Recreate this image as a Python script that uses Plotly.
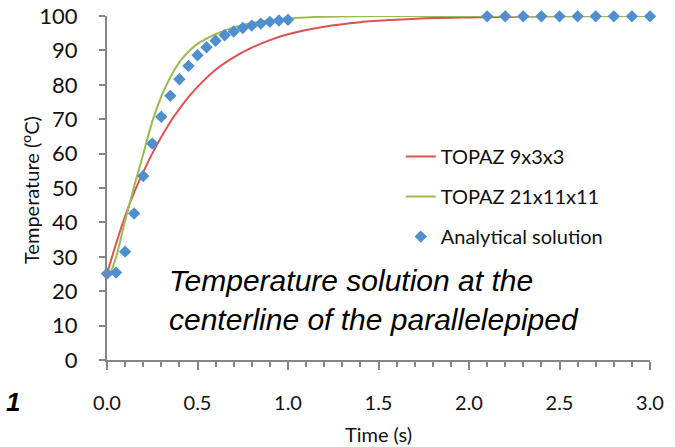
import plotly.graph_objects as go

# Analytical solution
t_an = [0.0, 0.05, 0.1, 0.15, 0.2, 0.25, 0.3, 0.35, 0.4, 0.45, 0.5, 0.55, 0.6, 0.65, 0.7,
        0.75, 0.8, 0.85, 0.9, 0.95, 1.0,
        2.1, 2.2, 2.3, 2.4, 2.5, 2.6, 2.7, 2.8, 2.9, 3.0]
T_an = [25.1, 25.4, 31.5, 42.6, 53.5, 62.9, 70.7, 76.8, 81.6, 85.5, 88.6, 90.9, 92.8, 94.4, 95.5,
        96.5, 97.2, 97.8, 98.3, 98.7, 98.9,
        99.9, 99.9, 99.9, 99.9, 99.9, 99.9, 99.9, 99.9, 99.9, 99.9]

# TOPAZ 9x3x3
t_red = [0.0, 0.05, 0.1, 0.15, 0.2, 0.25, 0.3, 0.35, 0.4, 0.45, 0.5, 0.6, 0.7, 0.8, 0.9, 1.0,
         1.2, 1.4, 1.6, 1.8, 2.0, 2.5, 3.0]
T_red = [25.0, 33.8, 41.8, 48.7, 54.6, 60.0, 64.8, 69.2, 73.0, 76.4, 79.4, 84.4, 88.0, 90.8,
         93.0, 94.7, 96.9, 98.2, 98.9, 99.4, 99.6, 99.9, 100.0]

# TOPAZ 21x11x11
t_grn = [0.017, 0.05, 0.1, 0.15, 0.2, 0.25, 0.3, 0.35, 0.4, 0.45, 0.5, 0.6, 0.7, 0.8, 0.9,
         1.0, 1.2, 1.5, 2.0, 3.0]
T_grn = [25.0, 29.8, 40.5, 50.5, 59.8, 69.3, 76.6, 82.2, 86.6, 89.6, 91.9, 94.7, 96.7, 98.0,
         98.8, 99.3, 99.8, 100.0, 100.0, 100.0]

FONT = "Lato"

fig = go.Figure()
fig.add_trace(go.Scatter(x=t_red, y=T_red, mode="lines", name="TOPAZ 9x3x3",
                         line=dict(color="#d9544f", width=2, shape="spline", smoothing=0.8),
                         legendgroup="a", cliponaxis=False))
fig.add_trace(go.Scatter(x=t_grn, y=T_grn, mode="lines", name="TOPAZ 21x11x11",
                         line=dict(color="#9bbb59", width=2, shape="spline", smoothing=0.8),
                         legendgroup="b", cliponaxis=False))
fig.add_trace(go.Scatter(x=t_an, y=T_an, mode="markers", name="Analytical solution",
                         marker=dict(symbol="diamond", color="#4f8fce", size=9.5),
                         legendgroup="c", cliponaxis=False))

axis_col = "#868686"
fig.update_layout(
    width=675, height=447,
    margin=dict(l=107, r=25, t=16, b=87, autoexpand=False),
    paper_bgcolor="white", plot_bgcolor="white",
    font=dict(family=FONT, size=20, color="#111111"),
    showlegend=True,
    legend=dict(x=0.541, y=0.648, xanchor="left", yanchor="top",
                bgcolor="rgba(0,0,0,0)", tracegroupgap=11,
                font=dict(family=FONT, size=20, color="#111111"),
                itemwidth=30),
    xaxis=dict(range=[0, 3], tick0=0, dtick=0.5, tickformat=".1f", automargin=False,
               showgrid=False, zeroline=False, showline=True, linecolor=axis_col, linewidth=2,
               ticks="outside", ticklen=8, tickcolor=axis_col, tickwidth=2,
               ticklabelstandoff=16,
               minor=dict(dtick=0.1, ticks="outside", ticklen=5, tickcolor=axis_col, tickwidth=1.5),
               title=dict(text="Time (s)", font=dict(family=FONT, size=20), standoff=15)),
    yaxis=dict(range=[0, 100], dtick=10, automargin=False,
               showgrid=False, zeroline=False, showline=True, linecolor=axis_col, linewidth=2,
               ticks="outside", ticklen=6, tickcolor=axis_col, tickwidth=2,
               ticklabelstandoff=17, tickfont=dict(family=FONT, size=22)),
    annotations=[
        dict(text="Temperature (<sup>o</sup>C)", textangle=-90,
             xref="paper", yref="paper", x=(30 - 107) / 543, y=1 - (190 - 16) / 344,
             xanchor="center", yanchor="middle", showarrow=False,
             font=dict(family=FONT, size=20, color="#111111")),
        dict(text="<i>Temperature solution at the<br>centerline of the parallelepiped</i>",
             xref="paper", yref="paper", x=0.492, y=0.174, xanchor="center", yanchor="middle",
             showarrow=False, align="left",
             font=dict(family="Liberation Sans", size=30, color="black")),
        dict(text="<b><i>1</i></b>", xref="paper", yref="paper", x=-0.19, y=-0.122,
             xanchor="left", yanchor="middle", showarrow=False,
             font=dict(family="Liberation Sans", size=26, color="black")),
    ],
)

fig.write_html("out.html")
